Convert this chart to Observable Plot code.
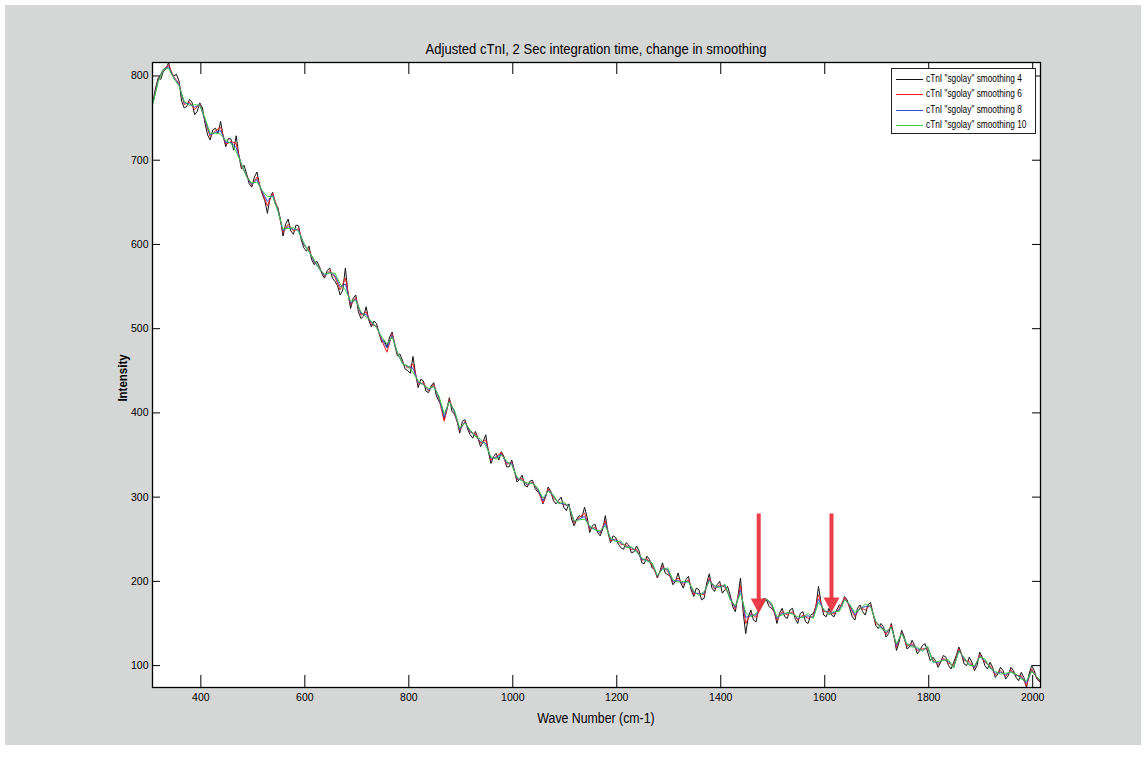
<!DOCTYPE html>
<html>
<head>
<meta charset="utf-8">
<script src="https://cdn.jsdelivr.net/npm/d3@7"></script>
<script src="https://cdn.jsdelivr.net/npm/@observablehq/plot@0.6"></script>
<style>
  body { margin: 0; background: #ffffff; }
  #page { position: relative; width: 1146px; height: 769px; overflow: hidden;
          font-family: 'Liberation Sans', Arial, Helvetica, sans-serif; color: #000; }
  #bg { position: absolute; left: 5px; top: 5px; width: 1136px; height: 740px; background: #d5d6d6; }
  #chart { position: absolute; left: 0; top: 0; }
  .title { position: absolute; left: 152px; width: 888px; top: 41px; text-align: center; font-size: 15px; line-height: 15px; white-space: nowrap; transform: scaleX(0.87); transform-origin: 50% 50%; }
  .xlabel { position: absolute; left: 152px; width: 888px; top: 711px; text-align: center; font-size: 14px; line-height: 14px; white-space: nowrap; transform: scaleX(0.88); transform-origin: 50% 50%; }
  .ylabel { position: absolute; left: 122px; top: 378px; transform: translate(-50%, -50%) rotate(-90deg) scaleX(0.85); font-size: 13.5px; font-weight: bold; white-space: nowrap; }
  .legend { position: absolute; left: 891px; top: 68px; width: 145px; height: 66px; border: 1px solid #222; background: #fff; box-sizing: border-box; }
  .legend .sw { position: absolute; left: 4px; width: 27px; height: 0; border-top: 1px solid; }
  .legend .lt { position: absolute; left: 34px; font-size: 10px; line-height: 10px; white-space: nowrap; transform: scaleX(0.83); transform-origin: 0 50%; }
</style>
</head>
<body>
<div id="page">
  <div id="bg"></div>
  <div id="chart"></div>
  <div class="title" id="title"></div>
  <div class="xlabel" id="xlabel"></div>
  <div class="ylabel" id="ylabel"></div>
  <div class="legend" id="legend"></div>
</div>
<script>
// ---------- data ----------
const titleText = "Adjusted cTnI, 2 Sec integration time, change in smoothing";
const xLabelText = "Wave Number (cm-1)";
const yLabelText = "Intensity";

const seriesNames = [
  'cTnI "sgolay" smoothing 4',
  'cTnI "sgolay" smoothing 6',
  'cTnI "sgolay" smoothing 8',
  'cTnI "sgolay" smoothing 10'
];
const seriesColors = ["#111111", "#ff1a1a", "#3050d8", "#3ccc3c"];

const xTicks = [400, 600, 800, 1000, 1200, 1400, 1600, 1800, 2000];
const yTicks = [100, 200, 300, 400, 500, 600, 700, 800];
const xDomain = [307, 2015];
const yDomain = [74, 816];

const waveNumber = [
  308,318,328,338,348,358,368,378,388,398,
  408,418,428,438,448,458,468,478,488,498,
  508,518,528,538,548,558,568,578,588,598,
  608,618,628,638,648,658,668,678,688,698,
  708,718,728,738,748,758,768,778,788,798,
  808,818,828,838,848,858,868,878,888,898,
  908,918,928,938,948,958,968,978,988,998,
  1008,1018,1028,1038,1048,1058,1068,1078,1088,1098,
  1108,1118,1128,1138,1148,1158,1168,1178,1188,1198,
  1208,1218,1228,1238,1248,1258,1268,1278,1288,1298,
  1308,1318,1328,1338,1348,1358,1368,1378,1388,1398,
  1408,1418,1428,1438,1448,1458,1468,1478,1488,1498,
  1508,1518,1528,1538,1548,1558,1568,1578,1588,1598,
  1608,1618,1628,1638,1648,1658,1668,1678,1688,1698,
  1708,1718,1728,1738,1748,1758,1768,1778,1788,1798,
  1808,1818,1828,1838,1848,1858,1868,1878,1888,1898,
  1908,1918,1928,1938,1948,1958,1968,1978,1988,1998,
  2008,2015
];

// extra wave numbers sampled for the noisiest (smoothing 4) trace
const waveNumberMid = [
  313,323,333,343,353,363,373,383,393,403,
  413,423,433,443,453,463,473,483,493,503,
  513,523,533,543,553,563,573,583,593,603,
  613,623,633,643,653,663,673,683,693,703,
  713,723,733,743,753,763,773,783,793,803,
  813,823,833,843,853,863,873,883,893,903,
  913,923,933,943,953,963,973,983,993,1003,
  1013,1023,1033,1043,1053,1063,1073,1083,1093,1103,
  1113,1123,1133,1143,1153,1163,1173,1183,1193,1203,
  1213,1223,1233,1243,1253,1263,1273,1283,1293,1303,
  1313,1323,1333,1343,1353,1363,1373,1383,1393,1403,
  1413,1423,1433,1443,1453,1463,1473,1483,1493,1503,
  1513,1523,1533,1543,1553,1563,1573,1583,1593,1603,
  1613,1623,1633,1643,1653,1663,1673,1683,1693,1703,
  1713,1723,1733,1743,1753,1763,1773,1783,1793,1803,
  1813,1823,1833,1843,1853,1863,1873,1883,1893,1903,
  1913,1923,1933,1943,1953,1963,1973,1983,1993,2003
];

const smoothing4 = [
  770,798,806,816,800,794,762,772,754,768,
  744,724,738,746,716,725,729,690,684,668,
  686,660,637,662,644,610,630,612,622,596,
  598,576,574,560,572,556,540,572,524,540,
  512,526,502,506,484,478,496,468,462,450,
  467,430,438,424,436,414,392,418,398,376,
  392,374,378,360,374,340,352,354,336,344,
  318,326,312,320,306,292,312,296,296,288,
  292,266,278,288,258,268,254,278,246,252,
  240,246,234,242,222,230,216,204,222,208,
  196,210,192,206,182,190,180,209,188,200,
  190,184,164,204,138,166,152,174,178,168,
  150,168,156,168,150,164,150,162,194,160,
  168,158,172,182,168,154,172,160,175,148,
  150,134,150,118,142,120,130,114,124,116,
  110,98,112,100,104,122,102,110,94,116,
  100,104,86,98,84,98,86,92,74,100,
  84,80
];

const smoothing4Mid = [
  786,796,808,803,802,770,764,769,758,762,
  730,736,732,728,726,712,706,694,672,680,
  670,652,655,648,630,624,616,623,606,592,
  582,580,565,569,560,551,546,542,536,520,
  515,510,509,494,486,490,480,470,452,447,
  446,440,426,432,420,408,404,402,390,390,
  381,370,370,366,354,348,344,348,336,332,
  321,314,319,310,303,300,307,292,300,284,
  274,274,276,276,266,258,262,258,254,244,
  238,243,235,236,221,226,214,212,210,206,
  200,198,202,190,192,178,198,192,196,186,
  194,170,182,164,158,154,168,180,170,164,
  162,158,166,156,162,152,160,170,174,158,
  160,166,170,178,158,168,164,172,162,144,
  146,138,136,128,134,122,124,118,126,106,
  106,104,110,96,112,114,100,104,100,110,
  96,98,90,94,88,94,82,86,90,94
];

const smoothing6 = [
  769,796,808,813,799,791,766,769,760,767,
  747,728,735,739,719,722,720,693,682,670,
  680,662,646,661,642,614,624,616,619,599,
  594,579,572,562,569,561,546,560,528,537,
  516,520,505,503,486,472,494,470,460,453,
  458,434,436,426,434,417,390,416,400,379,
  390,377,375,364,368,344,348,353,339,341,
  321,322,314,318,308,293,310,299,294,291,
  290,269,276,281,262,264,257,272,248,250,
  244,243,238,238,225,227,219,205,218,212,
  199,204,196,202,185,186,184,204,191,196,
  193,181,167,195,150,162,157,172,179,171,
  154,164,160,164,154,160,156,159,184,164,
  164,161,168,181,170,158,169,166,172,150,
  147,137,148,122,140,123,126,118,120,120,
  107,101,109,103,100,120,106,105,97,113,
  104,100,89,94,87,95,88,88,76,96,
  85,81
];

const smoothing8 = [
  768,795,808,811,798,790,768,767,763,766,
  748,730,733,735,721,721,715,695,681,671,
  677,663,651,659,641,616,621,618,617,600,
  592,580,571,563,567,563,550,553,530,535,
  518,517,507,502,488,477,492,471,459,455,
  453,436,434,427,432,418,395,414,401,380,
  389,378,373,366,364,346,347,351,341,340,
  322,320,315,317,309,296,308,301,293,292,
  290,271,274,277,264,262,258,269,250,249,
  246,241,240,236,226,225,221,206,216,214,
  200,201,198,200,187,185,186,202,193,194,
  195,180,169,190,157,160,160,171,179,172,
  156,162,162,162,156,158,159,157,179,166,
  162,163,166,179,172,160,168,170,171,152,
  146,139,146,124,139,125,124,120,118,122,
  105,103,107,105,98,118,108,102,98,111,
  106,98,91,92,89,93,89,86,79,94,
  86,82
];

const smoothing10 = [
  768,793,808,809,797,788,770,765,766,765,
  750,732,732,731,723,720,710,696,680,673,
  674,664,657,657,640,618,619,620,615,602,
  591,582,571,565,566,566,553,546,533,533,
  520,514,509,501,490,482,490,472,458,456,
  448,438,433,429,431,420,399,413,403,382,
  388,380,372,369,361,348,345,350,343,338,
  324,319,317,316,311,299,307,303,292,294,
  289,272,273,274,266,261,260,266,251,247,
  248,240,241,235,228,224,222,207,214,216,
  202,199,200,199,189,183,188,200,195,192,
  197,178,171,186,163,158,162,170,179,174,
  158,160,163,161,158,157,162,156,175,167,
  160,165,164,178,173,163,167,173,170,153,
  144,141,145,126,138,126,122,122,117,123,
  104,105,106,107,97,117,110,100,100,110,
  108,97,93,90,91,92,90,84,82,93,
  87,82
];

// annotation arrows (data coordinates)
const arrowX = [1473, 1613];
const arrowTop = [280, 280];
const arrowTip = [162, 163];
const arrowColor = "#ea3340";

// ---------- layout ----------
const W = 1146, H = 769;
const mL = 152, mR = 106, mT = 62, mB = 82;
const innerW = W - mL - mR, innerH = H - mT - mB;

const toRows = (xs, vals) => xs.map((w, i) => ({w, v: vals[i]}));
const rows4 = toRows(waveNumber, smoothing4)
  .concat(toRows(waveNumberMid, smoothing4Mid))
  .sort((a, b) => a.w - b.w);
const seriesRows = [rows4, toRows(waveNumber, smoothing6), toRows(waveNumber, smoothing8), toRows(waveNumber, smoothing10)];
const arrows = arrowX.map((x, i) => ({x, top: arrowTop[i], tip: arrowTip[i]}));

const downTriangle = {
  draw(context) {
    context.moveTo(0, 0);
    context.lineTo(-8, -15);
    context.lineTo(8, -15);
    context.closePath();
  }
};

const chart = Plot.plot({
  width: W, height: H,
  marginLeft: mL, marginRight: mR, marginTop: mT, marginBottom: mB,
  x: {domain: xDomain},
  y: {domain: yDomain},
  style: {
    background: "transparent",
    fontFamily: "'Liberation Sans', Arial, Helvetica, sans-serif",
    fontSize: "10.5px",
    color: "#000",
    overflow: "visible"
  },
  marks: [
    Plot.frame({fill: "white", stroke: null}),
    ...seriesRows.map((rows, k) => Plot.line(rows, {x: "w", y: "v", stroke: seriesColors[k], strokeWidth: 1})),
    Plot.ruleX(arrows, {x: "x", y1: "top", y2: "tip", stroke: arrowColor, strokeWidth: 4, insetBottom: 12, strokeOpacity: 0.95}),
    Plot.dot(arrows, {x: "x", y: "tip", symbol: downTriangle, fill: arrowColor, stroke: null, fillOpacity: 0.95}),
    Plot.ruleX(xTicks, {x: d => d, insetTop: innerH - 12, stroke: "#000"}),
    Plot.ruleX(xTicks, {x: d => d, insetBottom: innerH - 12, stroke: "#000"}),
    Plot.ruleY(yTicks, {y: d => d, insetRight: innerW - 8, stroke: "#000"}),
    Plot.ruleY(yTicks, {y: d => d, insetLeft: innerW - 8, stroke: "#000"}),
    Plot.axisX({ticks: xTicks, tickSize: 0, tickPadding: 6, label: null, tickFormat: d3.format("d")}),
    Plot.axisY({ticks: yTicks, tickSize: 0, tickPadding: 4, label: null, tickFormat: d3.format("d")}),
    Plot.frame({stroke: "#000", strokeWidth: 1.3})
  ]
});
document.getElementById("chart").appendChild(chart);

document.getElementById("title").textContent = titleText;
document.getElementById("xlabel").textContent = xLabelText;
document.getElementById("ylabel").textContent = yLabelText;

const legend = document.getElementById("legend");
const rowCenters = [11, 26, 41.5, 57];
seriesNames.forEach((name, k) => {
  const sw = document.createElement("div");
  sw.className = "sw";
  sw.style.top = (rowCenters[k] - 1) + "px";
  sw.style.borderTopColor = seriesColors[k];
  legend.appendChild(sw);
  const t = document.createElement("div");
  t.className = "lt";
  t.style.top = (rowCenters[k] - 6) + "px";
  t.textContent = name;
  legend.appendChild(t);
});
</script>
</body>
</html>
